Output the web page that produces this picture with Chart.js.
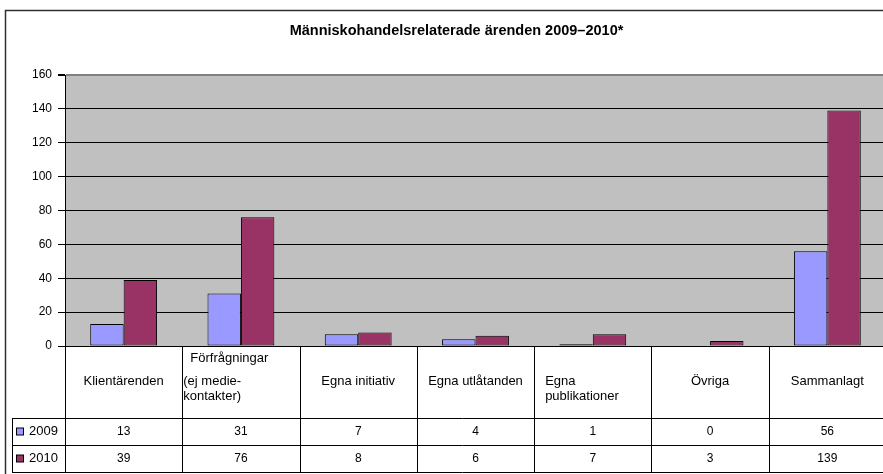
<!DOCTYPE html>
<html>
<head>
<meta charset="utf-8">
<script src="https://cdn.jsdelivr.net/npm/chart.js@4/dist/chart.umd.min.js"></script>
<style>
  html, body { margin: 0; padding: 0; background: #fff; overflow: hidden; }
  #wrap { width: 913px; height: 474px; }
</style>
</head>
<body>
<div id="wrap"><canvas id="chart" width="913" height="474"></canvas></div>
<script>
/* ------------------------------------------------------------
   DATA
------------------------------------------------------------ */
const TITLE = "Människohandelsrelaterade ärenden 2009–2010*";
const categories = [
    ["Klientärenden"],
    ["Förfrågningar", "(ej medie-", "kontakter)"],
    ["Egna initiativ"],
    ["Egna utlåtanden"],
    ["Egna", "publikationer"],
    ["Övriga"],
    ["Sammanlagt"]
];
const seriesNames = ["2009", "2010"];
const values2009 = [13, 31, 7, 4, 1, 0, 56];
const values2010 = [39, 76, 8, 6, 7, 3, 139];
const yMin = 0, yMax = 160, yStep = 20;

/* ------------------------------------------------------------
   THEME
------------------------------------------------------------ */
const COLORS = ["#9999ff", "#993366"];
const FONT = "'Liberation Sans', Arial, sans-serif";

/* ------------------------------------------------------------
   PLOT BACKGROUND
------------------------------------------------------------ */
const plotBg = {
    id: "plotBg",
    beforeDraw(chart) {
        const { ctx, chartArea: a } = chart;
        ctx.save();
        ctx.fillStyle = "#c0c0c0";
        ctx.fillRect(a.left, a.top, a.right - a.left, a.bottom - a.top);
        ctx.restore();
    }
};

/* ------------------------------------------------------------
   TITLE + FRAME + DATA TABLE (Excel style)
------------------------------------------------------------ */
const dataTable = {
    id: "dataTable",
    afterDraw(chart) {
        const { ctx, chartArea: a, scales: { x } } = chart;
        const n = categories.length;
        const half = (x.getPixelForValue(1) - x.getPixelForValue(0)) / 2;
        const px = v => Math.round(v) + 0.5;

        const headBottom = a.bottom + 72;
        const row1 = headBottom + 27;
        const row2 = row1 + 27;
        const tableLeft = 12;

        ctx.save();

        // outer frame
        ctx.strokeStyle = "#303030";
        ctx.lineWidth = 1.5;
        ctx.beginPath();
        ctx.moveTo(5.5, 480);
        ctx.lineTo(5.5, 10.5);
        ctx.lineTo(chart.width - 4, 10.5);
        ctx.stroke();

        // title
        ctx.fillStyle = "#000";
        ctx.font = "bold 14.5px " + FONT;
        ctx.textAlign = "center";
        ctx.textBaseline = "middle";
        ctx.fillText(TITLE, chart.width / 2, 31);

        // table grid
        ctx.strokeStyle = "#000";
        ctx.lineWidth = 1;
        ctx.beginPath();
        for (let i = 0; i <= n; i++) {
            const xe = px(x.getPixelForValue(i) - half);
            ctx.moveTo(xe, a.bottom);
            ctx.lineTo(xe, row2);
        }
        ctx.moveTo(px(tableLeft), headBottom);
        ctx.lineTo(px(tableLeft), row2);
        [headBottom, row1, row2].forEach(y => {
            ctx.moveTo(tableLeft, px(y));
            ctx.lineTo(chart.width, px(y));
        });
        ctx.stroke();

        // category headers
        ctx.font = "13px " + FONT;
        categories.forEach((lines, i) => {
            const cx = x.getPixelForValue(i);
            const left = cx - half;
            if (lines.length === 1) {
                ctx.textAlign = "center";
                ctx.fillText(lines[0], cx, a.bottom + 35);
            } else if (lines.length === 2) {
                ctx.textAlign = "left";
                ctx.fillText(lines[0], left + 11, a.bottom + 35);
                ctx.fillText(lines[1], left + 11, a.bottom + 50);
            } else {
                ctx.textAlign = "left";
                ctx.fillText(lines[0], left + 8, a.bottom + 12);
                ctx.fillText(lines[1], left + 1, a.bottom + 35);
                ctx.fillText(lines[2], left + 1, a.bottom + 50);
            }
        });

        // series rows
        const rows = [values2009, values2010];
        const rowMid = [(headBottom + row1) / 2, (row1 + row2) / 2];
        rows.forEach((vals, r) => {
            const ym = rowMid[r];
            // legend key
            ctx.fillStyle = COLORS[r];
            ctx.fillRect(16.5, ym - 3.5, 7, 7);
            ctx.strokeStyle = "#000";
            ctx.strokeRect(16.5, ym - 3.5, 7, 7);
            ctx.fillStyle = "#000";
            ctx.textAlign = "left";
            ctx.font = "13px " + FONT;
            ctx.fillText(seriesNames[r], 29, ym);
            ctx.textAlign = "center";
            ctx.font = "12px " + FONT;
            vals.forEach((v, i) => ctx.fillText(String(v), x.getPixelForValue(i), ym));
        });

        ctx.restore();
    }
};

/* ------------------------------------------------------------
   CHART
------------------------------------------------------------ */
new Chart(document.getElementById("chart"), {
    type: "bar",
    data: {
        labels: categories.map(c => c.join(" ")),
        datasets: [values2009, values2010].map((vals, i) => ({
            label: seriesNames[i],
            data: vals,
            backgroundColor: COLORS[i],
            borderColor: "#000",
            borderWidth: 1,
            borderSkipped: false,
            categoryPercentage: 0.57,
            barPercentage: 1.0
        }))
    },
    options: {
        responsive: false,
        animation: false,
        layout: { padding: { top: 75, bottom: 128, left: 5, right: 27 } },
        plugins: {
            legend: { display: false },
            title: { display: false },
            tooltip: { enabled: false }
        },
        scales: {
            x: { display: false },
            y: {
                min: yMin,
                max: yMax,
                ticks: {
                    stepSize: yStep,
                    color: "#000",
                    padding: 6,
                    font: { family: FONT, size: 12 }
                },
                grid: {
                    color: c => (c.tick && c.tick.value === yMax ? "#808080" : "#000"),
                    lineWidth: c => (c.tick && c.tick.value === yMax ? 2 : 1),
                    tickLength: 7,
                    tickColor: "#000"
                },
                border: { color: "#000", width: 1 },
                afterFit: s => { s.width = 60; }
            }
        }
    },
    plugins: [plotBg, dataTable]
});
</script>
</body>
</html>
